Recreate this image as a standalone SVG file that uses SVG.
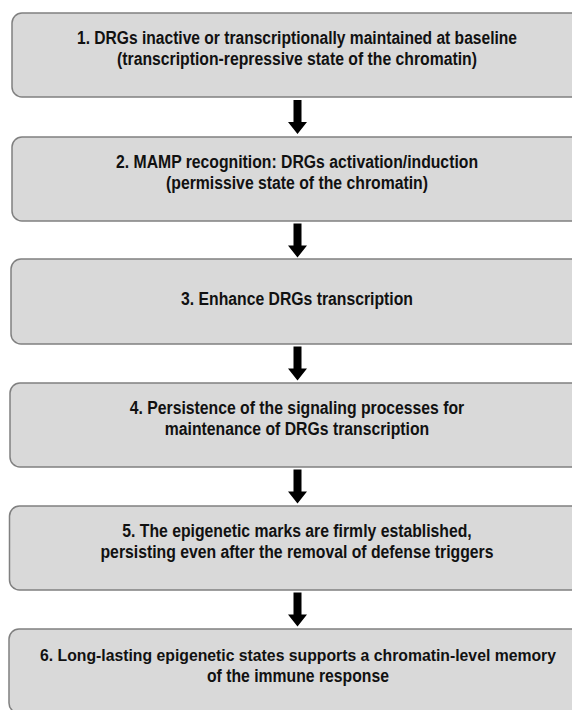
<svg xmlns="http://www.w3.org/2000/svg" xmlns:xlink="http://www.w3.org/1999/xlink" width="572" height="710" viewBox="0 0 572 710">
  <style>
    .box { fill: #d9d9d9; stroke: #808080; stroke-width: 1.5; }
    .t { font-family: "Liberation Sans", Arial, Helvetica, sans-serif; font-weight: bold; font-size: 17.5px; fill: #111111; text-anchor: middle; }
    .arrow { fill: #000000; }
  </style>
  <defs>
    <path id="arr" d="M -4 0 L 4 0 L 4 22 L 9.5 22 L 0 34 L -9.5 22 L -4 22 Z"/>
  </defs>
  <rect x="0" y="0" width="572" height="710" fill="#ffffff"/>

  <g id="node1">
    <rect class="box" x="12" y="13" width="590" height="84" rx="10" ry="10"/>
    <text class="t" x="297" y="43.5" textLength="440" lengthAdjust="spacingAndGlyphs">1. DRGs inactive or transcriptionally maintained at baseline</text>
    <text class="t" x="297" y="64.5" textLength="360" lengthAdjust="spacingAndGlyphs">(transcription-repressive state of the chromatin)</text>
  </g>

  <g id="node2">
    <rect class="box" x="12" y="137" width="590" height="84" rx="10" ry="10"/>
    <text class="t" x="297" y="167.5" textLength="362" lengthAdjust="spacingAndGlyphs">2. MAMP recognition: DRGs activation/induction</text>
    <text class="t" x="297" y="188.5" textLength="262" lengthAdjust="spacingAndGlyphs">(permissive state of the chromatin)</text>
  </g>

  <g id="node3">
    <rect class="box" x="11" y="259" width="590" height="85" rx="10" ry="10"/>
    <text class="t" x="297" y="305" textLength="232" lengthAdjust="spacingAndGlyphs">3. Enhance DRGs transcription</text>
  </g>

  <g id="node4">
    <rect class="box" x="10" y="383" width="590" height="84" rx="10" ry="10"/>
    <text class="t" x="297" y="413.5" textLength="334.5" lengthAdjust="spacingAndGlyphs">4. Persistence of the signaling processes for</text>
    <text class="t" x="297" y="434.5" textLength="264.5" lengthAdjust="spacingAndGlyphs">maintenance of DRGs transcription</text>
  </g>

  <g id="node5">
    <rect class="box" x="9.5" y="506" width="590" height="84" rx="10" ry="10"/>
    <text class="t" x="297" y="536.5" textLength="349.5" lengthAdjust="spacingAndGlyphs">5. The epigenetic marks are firmly established,</text>
    <text class="t" x="297" y="557.5" textLength="393" lengthAdjust="spacingAndGlyphs">persisting even after the removal of defense triggers</text>
  </g>

  <g id="node6">
    <rect class="box" x="9" y="629" width="590" height="84" rx="10" ry="10"/>
    <text class="t" x="298" y="660.5" font-size="16" style="font-size:16px" textLength="516" lengthAdjust="spacingAndGlyphs">6. Long-lasting epigenetic states supports a chromatin-level memory</text>
    <text class="t" x="298" y="681.5" textLength="182" lengthAdjust="spacingAndGlyphs">of the immune response</text>
  </g>

  <g id="connectors">
    <use class="arrow" xlink:href="#arr" href="#arr" transform="translate(297.5,100)"/>
    <use class="arrow" xlink:href="#arr" href="#arr" transform="translate(297.5,223.5)"/>
    <use class="arrow" xlink:href="#arr" href="#arr" transform="translate(297.5,346.5)"/>
    <use class="arrow" xlink:href="#arr" href="#arr" transform="translate(297.5,469.5)"/>
    <use class="arrow" xlink:href="#arr" href="#arr" transform="translate(297.5,592.5)"/>
  </g>
</svg>
